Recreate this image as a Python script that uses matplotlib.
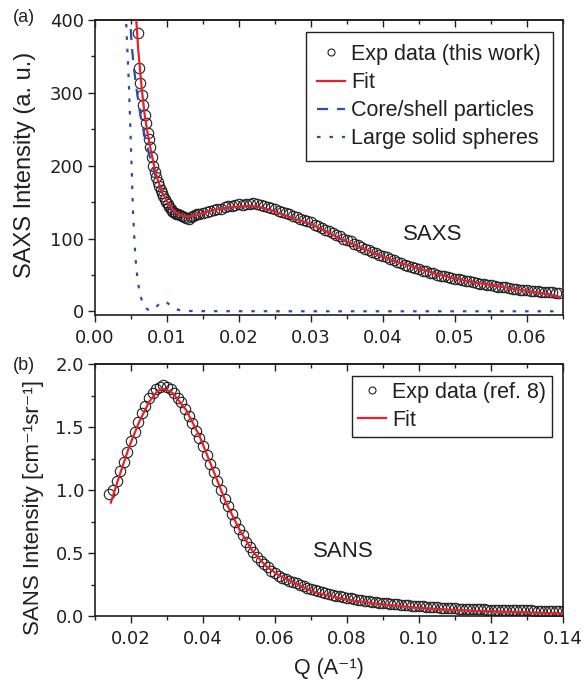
import matplotlib
matplotlib.use("Agg")
import matplotlib.pyplot as plt
from matplotlib.ticker import MultipleLocator, FormatStrFormatter

plt.rcParams['font.family'] = ['Liberation Sans', 'DejaVu Sans']
plt.rcParams['text.color'] = '#231f20'
plt.rcParams['axes.labelcolor'] = '#231f20'
plt.rcParams['xtick.color'] = '#231f20'
plt.rcParams['ytick.color'] = '#231f20'
plt.rcParams['axes.edgecolor'] = '#231f20'

# ---- (a) SAXS data ----
saxs_q = [0.00595, 0.0061, 0.0063, 0.0065, 0.0067, 0.0069, 0.0071, 0.0073, 0.0075, 0.0077,
          0.0079, 0.0081, 0.0083, 0.0085, 0.0087, 0.0089, 0.0091, 0.0093, 0.0095, 0.0097,
          0.0099, 0.0101, 0.0103, 0.0105, 0.0107, 0.0109, 0.0111, 0.0113, 0.0115, 0.0118,
          0.0121, 0.0124, 0.0127, 0.0130, 0.0133, 0.0136, 0.0139, 0.0142, 0.0145, 0.0150,
          0.0155, 0.0160, 0.0165, 0.0170, 0.0175, 0.0180, 0.0185, 0.0190, 0.0195, 0.0200,
          0.0205, 0.0210, 0.0215, 0.0220, 0.0225, 0.0230, 0.0235, 0.0240, 0.0245, 0.0250,
          0.0255, 0.0260, 0.0265, 0.0270, 0.0275, 0.0280, 0.0285, 0.0290, 0.0295, 0.0300,
          0.0305, 0.0310, 0.0315, 0.0320, 0.0325, 0.0330, 0.0335, 0.0340, 0.0345, 0.0350,
          0.0355, 0.0360, 0.0365, 0.0370, 0.0375, 0.0380, 0.0385, 0.0390, 0.0395, 0.0400,
          0.0405, 0.0410, 0.0415, 0.0420, 0.0425, 0.0430, 0.0435, 0.0440, 0.0445, 0.0450,
          0.0455, 0.0460, 0.0465, 0.0470, 0.0475, 0.0480, 0.0485, 0.0490, 0.0495, 0.0500,
          0.0505, 0.0510, 0.0515, 0.0520, 0.0525, 0.0530, 0.0535, 0.0540, 0.0545, 0.0550,
          0.0555, 0.0560, 0.0565, 0.0570, 0.0575, 0.0580, 0.0585, 0.0590, 0.0595, 0.0600,
          0.0605, 0.0610, 0.0615, 0.0620, 0.0625, 0.0630, 0.0635, 0.0640, 0.0645]
saxs_i = [382, 334, 313, 297, 283, 270, 258, 245, 236, 226,
          212, 200, 192, 184, 178, 172, 166, 162, 158, 154,
          150, 147, 143, 140, 138, 136, 135, 134, 133, 132,
          131, 130, 128, 127, 129, 131, 132, 133, 134, 135,
          137, 138, 139, 141, 140, 143, 144, 145, 146, 147,
          146, 148, 148, 149, 147, 146, 145, 143, 142, 140,
          138, 137, 135, 133, 131, 129, 127, 126, 124, 122,
          119, 117, 115, 112, 110, 107, 105, 103, 100, 98,
          96, 93, 91, 88, 86, 84, 82, 80, 78, 76,
          74, 72, 70, 68, 66, 64, 62, 61, 59, 58,
          56, 55, 53, 52, 50, 49, 48, 47, 46, 45,
          44, 43, 42, 41, 40, 39, 38, 37, 36.5, 36,
          35, 34, 33.5, 33, 32, 31, 30.5, 30, 29.5, 29,
          28.5, 28, 27.5, 27, 26.5, 26, 26, 25.5, 25.5]

fit_a_q = [0.0056, 0.0060, 0.0062, 0.0065, 0.0069, 0.0073, 0.0077, 0.0082, 0.0088, 0.0094,
           0.0101, 0.0108, 0.0114, 0.0119, 0.0124, 0.0128, 0.0135, 0.0145, 0.0156, 0.0170,
           0.0188, 0.0200, 0.0215, 0.0230, 0.0243, 0.0260, 0.0280, 0.0300, 0.0320, 0.0340,
           0.0360, 0.0380, 0.0400, 0.0425, 0.0450, 0.0475, 0.0500, 0.0525, 0.0550, 0.0575,
           0.0600, 0.0625, 0.0645]
fit_a_i = [420, 360, 338, 305, 270, 245, 224, 200, 178, 162,
           150, 140, 135, 132, 131, 130, 131, 133, 137, 140,
           143, 144, 145, 143, 139, 133, 126, 120, 110, 100,
           91, 83, 75, 66, 59, 51, 45, 40, 36, 32,
           28, 24.5, 20]

core_q = [0.0048, 0.0051, 0.0054, 0.0057, 0.0060, 0.0063, 0.0067, 0.0072, 0.0078, 0.0085,
          0.0092, 0.0100, 0.0108, 0.0116, 0.0124, 0.0130, 0.0135, 0.0145, 0.0156, 0.0170,
          0.0188, 0.0200, 0.0215, 0.0230, 0.0243, 0.0260, 0.0280, 0.0300, 0.0320, 0.0340,
          0.0360, 0.0380, 0.0400, 0.0425, 0.0450, 0.0475, 0.0500, 0.0525, 0.0550, 0.0575,
          0.0600, 0.0625, 0.0645]
core_i = [415, 365, 335, 310, 290, 270, 250, 228, 205, 183,
          165, 150, 140, 133, 130, 130, 131, 133, 137, 140,
          143, 144, 145, 143, 139, 133, 126, 120, 110, 100,
          91, 83, 75, 66, 59, 51, 45, 40, 36, 32,
          28, 24.5, 20]

sphere_q = [0.0042, 0.0044, 0.0047, 0.0050, 0.0053, 0.0056, 0.0059, 0.0062, 0.0066, 0.0070,
            0.0075, 0.0080, 0.0085, 0.0090, 0.0095, 0.0100, 0.0105, 0.0110, 0.0118, 0.0130,
            0.0150, 0.0200, 0.0300, 0.0400, 0.0500, 0.0600, 0.0650]
sphere_i = [430, 380, 315, 224, 132, 75, 45, 25, 12, 5,
            1.5, 1.5, 6, 11, 14, 12, 8, 4, 1.5, 0.5,
            0.3, 0.2, 0.1, 0.1, 0.1, 0.1, 0.1]

# ---- (b) SANS data ----
sans_q = [0.014, 0.015, 0.016, 0.017, 0.018, 0.019, 0.020, 0.021, 0.022, 0.023,
          0.024, 0.025, 0.026, 0.027, 0.028, 0.029, 0.030, 0.031, 0.032, 0.033,
          0.034, 0.035, 0.036, 0.037, 0.038, 0.039, 0.040, 0.041, 0.042, 0.043,
          0.044, 0.045, 0.046, 0.047, 0.048, 0.049, 0.050, 0.051, 0.052, 0.053,
          0.054, 0.055, 0.056, 0.057, 0.058, 0.059, 0.060, 0.061, 0.062, 0.063,
          0.064, 0.065, 0.066, 0.067, 0.068, 0.069, 0.070, 0.071, 0.072, 0.073,
          0.074, 0.075, 0.076, 0.077, 0.078, 0.079, 0.080, 0.081, 0.082, 0.083,
          0.084, 0.085, 0.086, 0.087, 0.088, 0.089, 0.090, 0.091, 0.092, 0.093,
          0.094, 0.095, 0.096, 0.097, 0.098, 0.099, 0.100, 0.101, 0.102, 0.103,
          0.104, 0.105, 0.106, 0.107, 0.108, 0.109, 0.110, 0.111, 0.112, 0.113,
          0.114, 0.115, 0.116, 0.117, 0.118, 0.119, 0.120, 0.121, 0.122, 0.123,
          0.124, 0.125, 0.126, 0.127, 0.128, 0.129, 0.130, 0.131, 0.132, 0.133,
          0.134, 0.135, 0.136, 0.137, 0.138, 0.139, 0.140]
sans_i = [0.97, 1.00, 1.07, 1.15, 1.22, 1.30, 1.39, 1.46, 1.54, 1.61,
          1.67, 1.73, 1.77, 1.80, 1.82, 1.83, 1.82, 1.80, 1.77, 1.73,
          1.70, 1.64, 1.59, 1.53, 1.47, 1.41, 1.35, 1.28, 1.21, 1.14,
          1.07, 1.00, 0.93, 0.87, 0.81, 0.75, 0.69, 0.64, 0.59, 0.55,
          0.51, 0.47, 0.44, 0.41, 0.385, 0.36, 0.34, 0.32, 0.305, 0.29,
          0.28, 0.27, 0.26, 0.245, 0.235, 0.225, 0.212, 0.203, 0.195, 0.188,
          0.180, 0.173, 0.166, 0.160, 0.155, 0.150, 0.145, 0.140, 0.135, 0.130,
          0.126, 0.122, 0.118, 0.114, 0.110, 0.107, 0.104, 0.101, 0.098, 0.095,
          0.092, 0.089, 0.087, 0.084, 0.082, 0.080, 0.078, 0.076, 0.074, 0.072,
          0.070, 0.068, 0.066, 0.065, 0.063, 0.062, 0.060, 0.059, 0.058, 0.057,
          0.056, 0.055, 0.054, 0.053, 0.052, 0.051, 0.050, 0.049, 0.049, 0.048,
          0.047, 0.047, 0.046, 0.046, 0.045, 0.045, 0.044, 0.044, 0.043, 0.043,
          0.042, 0.042, 0.041, 0.041, 0.040, 0.040, 0.039]

fit_b_q = [0.0144, 0.0167, 0.0195, 0.0223, 0.0251, 0.0270, 0.0284, 0.0295, 0.0316, 0.0353,
           0.0391, 0.0428, 0.0465, 0.0502, 0.0539, 0.0577, 0.0614, 0.0660, 0.0707, 0.0800,
           0.0893, 0.0986, 0.1078, 0.1171, 0.1264, 0.1400]
fit_b_i = [0.90, 1.106, 1.344, 1.543, 1.702, 1.775, 1.800, 1.800, 1.769, 1.636,
           1.424, 1.159, 0.894, 0.682, 0.509, 0.390, 0.318, 0.255, 0.191, 0.130,
           0.095, 0.069, 0.051, 0.041, 0.033, 0.021]

red = '#e8202a'
blue = '#2b4ea2'
dark = '#231f20'
tick_font = ['DejaVu Sans']

fig = plt.figure(figsize=(5.85, 6.85), dpi=100)
ax1 = fig.add_axes([95/585, 1-315/685, 468/585, 295/685])
ax2 = fig.add_axes([95/585, 1-616/685, 468/585, 252/685])

ax1.plot(saxs_q, saxs_i, 'o', ms=7.5, mfc='none', mec=dark, mew=0.8,
         label='Exp data (this work)', zorder=2)
ax1.plot(fit_a_q, fit_a_i, '-', color=red, lw=1.6, label='Fit', zorder=4)
ax1.plot(core_q, core_i, color=blue, lw=1.6, dashes=(5, 4), label='Core/shell particles', zorder=3)
ax1.plot(sphere_q, sphere_i, color=blue, lw=1.6, dashes=(1.6, 4), label='Large solid spheres', zorder=3)

ax2.plot(sans_q, sans_i, 'o', ms=7.5, mfc='none', mec=dark, mew=0.8,
         label='Exp data (ref. 8)', zorder=2)
ax2.plot(fit_b_q, fit_b_i, '-', color=red, lw=1.6, label='Fit', zorder=4)

ax1.set_xlim(0, 0.065)
ax1.set_ylim(-5, 400)
ax2.set_xlim(0.01, 0.14)
ax2.set_ylim(0, 2.0)

for ax, xmaj, xmin, ymaj, ymin, xfmt, yfmt in [
        (ax1, 0.01, 0.005, 100, 50, '%.2f', '%d'),
        (ax2, 0.02, 0.01, 0.5, 0.25, '%.2f', '%.1f')]:
    ax.xaxis.set_major_locator(MultipleLocator(xmaj))
    ax.xaxis.set_minor_locator(MultipleLocator(xmin))
    ax.yaxis.set_major_locator(MultipleLocator(ymaj))
    ax.yaxis.set_minor_locator(MultipleLocator(ymin))
    ax.xaxis.set_major_formatter(FormatStrFormatter(xfmt))
    ax.yaxis.set_major_formatter(FormatStrFormatter(yfmt))
    ax.tick_params(which='both', direction='out', top=False, right=False, width=1.0)
    ax.tick_params(which='major', length=5)
    ax.tick_params(which='minor', length=3)
    ax.tick_params(axis='x', which='major', pad=5)
    ax.tick_params(axis='y', which='major', pad=3)
    for lab in ax.get_xticklabels() + ax.get_yticklabels():
        lab.set_family(tick_font)
        lab.set_fontsize(13)
    for s in ax.spines.values():
        s.set_linewidth(1.2)
    sec = ax.secondary_xaxis('top')
    sec.xaxis.set_major_locator(MultipleLocator(xmaj))
    sec.xaxis.set_minor_locator(MultipleLocator(xmin))
    sec.tick_params(which='both', direction='in', labeltop=False, width=1.0)
    sec.tick_params(which='major', length=5)
    sec.tick_params(which='minor', length=3)
    sec.spines['top'].set_linewidth(1.2)

ax1.set_ylabel('SAXS Intensity (a. u.)', fontsize=17)
ax1.yaxis.set_label_coords(-0.127, 0.508)
ax2.set_ylabel('SANS Intensity [cm\u207b\u00b9sr\u207b\u00b9]', fontsize=16)
ax2.yaxis.set_label_coords(-0.11, 0.43)
ax2.set_xlabel('Q (A\u207b\u00b9)', fontsize=15.5, labelpad=7)

ax1.text(0.0469, 106, 'SAXS', fontsize=16, ha='center', va='center')
ax2.text(0.079, 0.515, 'SANS', fontsize=16, ha='center', va='center')
fig.text(24/585, 1-17/685, '(a)', fontsize=13, ha='center', va='center')
fig.text(24/585, 1-365/685, '(b)', fontsize=13, ha='center', va='center')

leg_kw = dict(loc='upper right', fontsize=15.5, frameon=True, fancybox=False, edgecolor=dark,
              handlelength=1.3, handletextpad=0.28, labelspacing=0.33,
              borderaxespad=0, markerscale=0.67)
l1 = ax1.legend(bbox_to_anchor=(0.9786, 0.959), borderpad=0.55, **leg_kw)
l2 = ax2.legend(bbox_to_anchor=(0.977, 0.954), borderpad=0.28, **leg_kw)
for l in (l1, l2):
    l.get_frame().set_linewidth(1.0)
    l.get_frame().set_alpha(1)

fig.savefig('out.png', dpi=100)
